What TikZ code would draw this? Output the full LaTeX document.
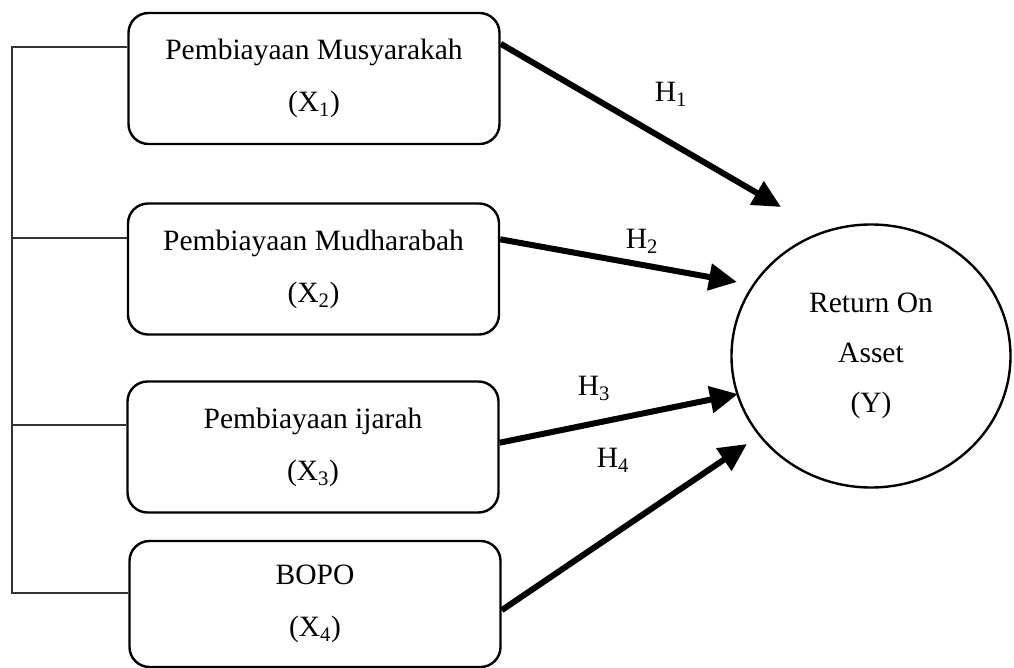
\documentclass[tikz,border=0pt]{standalone}
\usepackage{fontspec}
\setmainfont{Liberation Serif}
\usetikzlibrary{arrows.meta,shapes.geometric}
\tikzset{
  varbox/.style={draw, line width=2.4pt, rounded corners=20pt, align=center,
    minimum width=371pt, minimum height=131pt, inner sep=0pt,
    font=\fontsize{29.5}{34}\selectfont},
  target/.style={draw, ellipse, line width=2.4pt, align=center,
    minimum width=279pt, minimum height=263pt, inner sep=0pt,
    font=\fontsize{29.5}{34}\selectfont},
  hyp/.style={line width=6pt, -{Triangle[length=28pt,width=26pt]}},
  hlabel/.style={font=\fontsize{29.5}{34}\selectfont, inner sep=0pt},
  bracket/.style={line width=1.4pt, draw=black!80}
}
\begin{document}
\begin{tikzpicture}[x=1pt,y=-1pt]
\useasboundingbox (0,0) rectangle (1014,668);
\node[varbox] (b1) at (314,78.5) {Pembiayaan Musyarakah\\[18pt](X\textsubscript{1})};
\node[varbox] (b2) at (313.5,269) {Pembiayaan Mudharabah\\[18pt](X\textsubscript{2})};
\node[varbox] (b3) at (313,447) {Pembiayaan ijarah\\[18pt](X\textsubscript{3})};
\node[varbox, minimum height=126pt] (b4) at (315,604) {BOPO\\[18pt](X\textsubscript{4})};
\node[target] (y) at (871,356) {Return On\\[16pt]Asset\\[16pt](Y)};

\coordinate (t1) at (781,207);
\coordinate (t2) at (737,282);
\coordinate (t3) at (738,394);
\coordinate (t4) at (747,444);
\draw[hyp] ([yshift=-32pt]b1.north east) -- (t1);
\draw[hyp] ([yshift=-37pt]b2.north east) -- (t2);
\draw[hyp] ([yshift=71pt]b3.south east) -- (t3);
\draw[hyp] ([yshift=58pt]b4.south east) -- (t4);

\node[hlabel] (h1) at (671,94) {H\textsubscript{1}};
\node[hlabel] (h2) at (642,241) {H\textsubscript{2}};
\node[hlabel] (h3) at (594,388) {H\textsubscript{3}};
\node[hlabel] (h4) at (613,460) {H\textsubscript{4}};

\coordinate (k1) at (12,47);
\coordinate (k4) at (12,593);
\draw[bracket] (b1.west |- k1) -- (k1) -- (k4) -- (b4.west |- k4);
\draw[bracket] (b2.west |- 0,238) -- (12,238);
\draw[bracket] (b3.west |- 0,425) -- (12,425);
\end{tikzpicture}
\end{document}
